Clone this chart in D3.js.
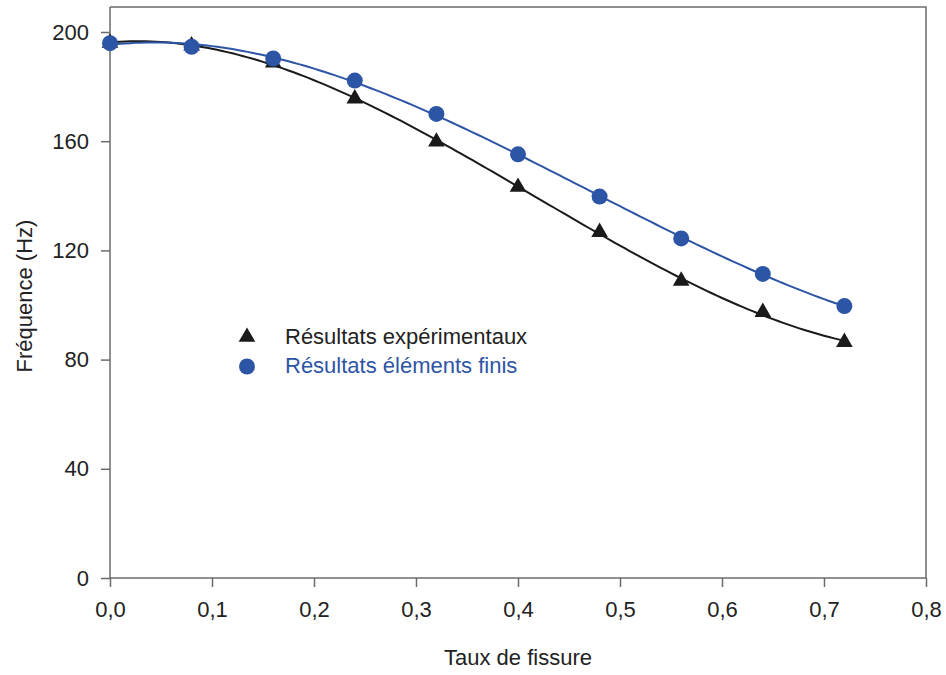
<!DOCTYPE html>
<html>
<head>
<meta charset="utf-8">
<script src="https://cdn.jsdelivr.net/npm/d3@7"></script>
<style>
  body { margin: 0; background: #fff; }
  svg { display: block; font-family: "Liberation Sans", Arial, sans-serif; }
</style>
</head>
<body>
<div id="chart"></div>
<script>
// Taux de fissure (x)
const taux = [0, 0.08, 0.16, 0.24, 0.32, 0.40, 0.48, 0.56, 0.64, 0.72];
// Résultats expérimentaux (Hz)
const experimentaux = [196, 195, 188.8, 175.6, 159.8, 143.2, 126.7, 108.8, 97.4, 86.4];
// Résultats éléments finis (Hz)
const elementsFinis = [195.9, 194.6, 190.3, 182.2, 170, 155.2, 139.7, 124.4, 111.4, 99.6];
const xTicks = [0, 0.1, 0.2, 0.3, 0.4, 0.5, 0.6, 0.7, 0.8];
const yTicks = [0, 40, 80, 120, 160, 200];

const width = 946, height = 675;
const yTop = 7;
const blue = '#2d55a6';
const axisColor = '#6b6b6b';
const fontSize = '22px';

const svg = d3.select('#chart').append('svg')
  .attr('width', width)
  .attr('height', height);

const x = d3.scaleLinear().domain([0, 0.8]).range([110, 926]);
const y = d3.scaleLinear().domain([0, 200]).range([578, 32]);

// least squares polynomial fit (the reference shows regression curves)
function polyFit(xs, ys, deg) {
  const n = deg + 1;
  const M = Array.from({ length: n }, () => new Array(n + 1).fill(0));
  xs.forEach((xv, k) => {
    for (let i = 0; i < n; i++) {
      for (let j = 0; j < n; j++) M[i][j] += Math.pow(xv, i + j);
      M[i][n] += ys[k] * Math.pow(xv, i);
    }
  });
  for (let i = 0; i < n; i++) {
    let p = i;
    for (let r = i + 1; r < n; r++) if (Math.abs(M[r][i]) > Math.abs(M[p][i])) p = r;
    [M[i], M[p]] = [M[p], M[i]];
    for (let r = 0; r < n; r++) {
      if (r === i) continue;
      const f = M[r][i] / M[i][i];
      for (let c = i; c <= n; c++) M[r][c] -= f * M[i][c];
    }
  }
  const coef = M.map((row, i) => row[n] / row[i]);
  return xv => coef.reduce((s, c, i) => s + c * Math.pow(xv, i), 0);
}

// frame: top and right
svg.append('path')
  .attr('d', `M${x(0)},${yTop}H${x(0.8)}V${y(0)}`)
  .attr('fill', 'none')
  .attr('stroke', axisColor)
  .attr('stroke-width', 1.5);

const fmt = d3.format('.1f');
const xAxis = svg.append('g')
  .attr('transform', `translate(0,${y(0)})`)
  .call(d3.axisBottom(x).tickValues(xTicks).tickSize(9).tickPadding(14)
    .tickFormat(d => fmt(d).replace('.', ',')));

const yAxis = svg.append('g')
  .attr('transform', `translate(${x(0)},0)`)
  .call(d3.axisLeft(y).tickValues(yTicks).tickSize(9).tickPadding(12));

yAxis.select('.domain').attr('d', `M0,${yTop}V${y(0)}`);
xAxis.select('.domain').attr('d', `M${x(0)},0H${x(0.8)}`);

[xAxis, yAxis].forEach(a => {
  a.select('.domain').attr('stroke', axisColor).attr('stroke-width', 1.5);
  a.selectAll('.tick line').attr('stroke', axisColor).attr('stroke-width', 1.5);
  a.selectAll('.tick text').attr('fill', '#222').style('font-size', fontSize)
    .style('font-family', '"Liberation Sans", Arial, sans-serif');
});

// axis titles
svg.append('text')
  .attr('x', 518)
  .attr('y', 665)
  .attr('text-anchor', 'middle')
  .attr('fill', '#222')
  .style('font-size', fontSize)
  .text('Taux de fissure');

svg.append('text')
  .attr('transform', 'translate(32,296) rotate(-90)')
  .attr('text-anchor', 'middle')
  .attr('fill', '#222')
  .style('font-size', fontSize)
  .text('Fréquence (Hz)');

// fitted curves
const line = d3.line().x(d => x(d[0])).y(d => y(d[1]));
const fitCurve = ys => {
  const f = polyFit(taux, ys, 3);
  const xs = d3.range(0, 0.7201, 0.005);
  return xs.map(v => [v, f(v)]);
};

svg.append('path')
  .datum(fitCurve(experimentaux))
  .attr('d', line)
  .attr('fill', 'none')
  .attr('stroke', '#1a1a1a')
  .attr('stroke-width', 2);

svg.append('path')
  .datum(fitCurve(elementsFinis))
  .attr('d', line)
  .attr('fill', 'none')
  .attr('stroke', blue)
  .attr('stroke-width', 2);

const tri = d3.symbol().type(d3.symbolTriangle).size(120);

svg.append('g').selectAll('path')
  .data(d3.zip(taux, experimentaux))
  .join('path')
  .attr('d', tri)
  .attr('transform', d => `translate(${x(d[0])},${y(d[1])})`)
  .attr('fill', '#1a1a1a');

svg.append('g').selectAll('circle')
  .data(d3.zip(taux, elementsFinis))
  .join('circle')
  .attr('cx', d => x(d[0]))
  .attr('cy', d => y(d[1]))
  .attr('r', 8)
  .attr('fill', blue);

// legend
const legend = svg.append('g');
legend.append('path')
  .attr('d', tri)
  .attr('transform', 'translate(247,337)')
  .attr('fill', '#1a1a1a');
legend.append('text')
  .attr('x', 285).attr('y', 344)
  .attr('fill', '#222')
  .style('font-size', fontSize)
  .text('Résultats expérimentaux');
legend.append('circle')
  .attr('cx', 247).attr('cy', 366.5).attr('r', 8)
  .attr('fill', blue);
legend.append('text')
  .attr('x', 285).attr('y', 373)
  .attr('fill', blue)
  .style('font-size', fontSize)
  .text('Résultats éléments finis');
</script>
</body>
</html>
